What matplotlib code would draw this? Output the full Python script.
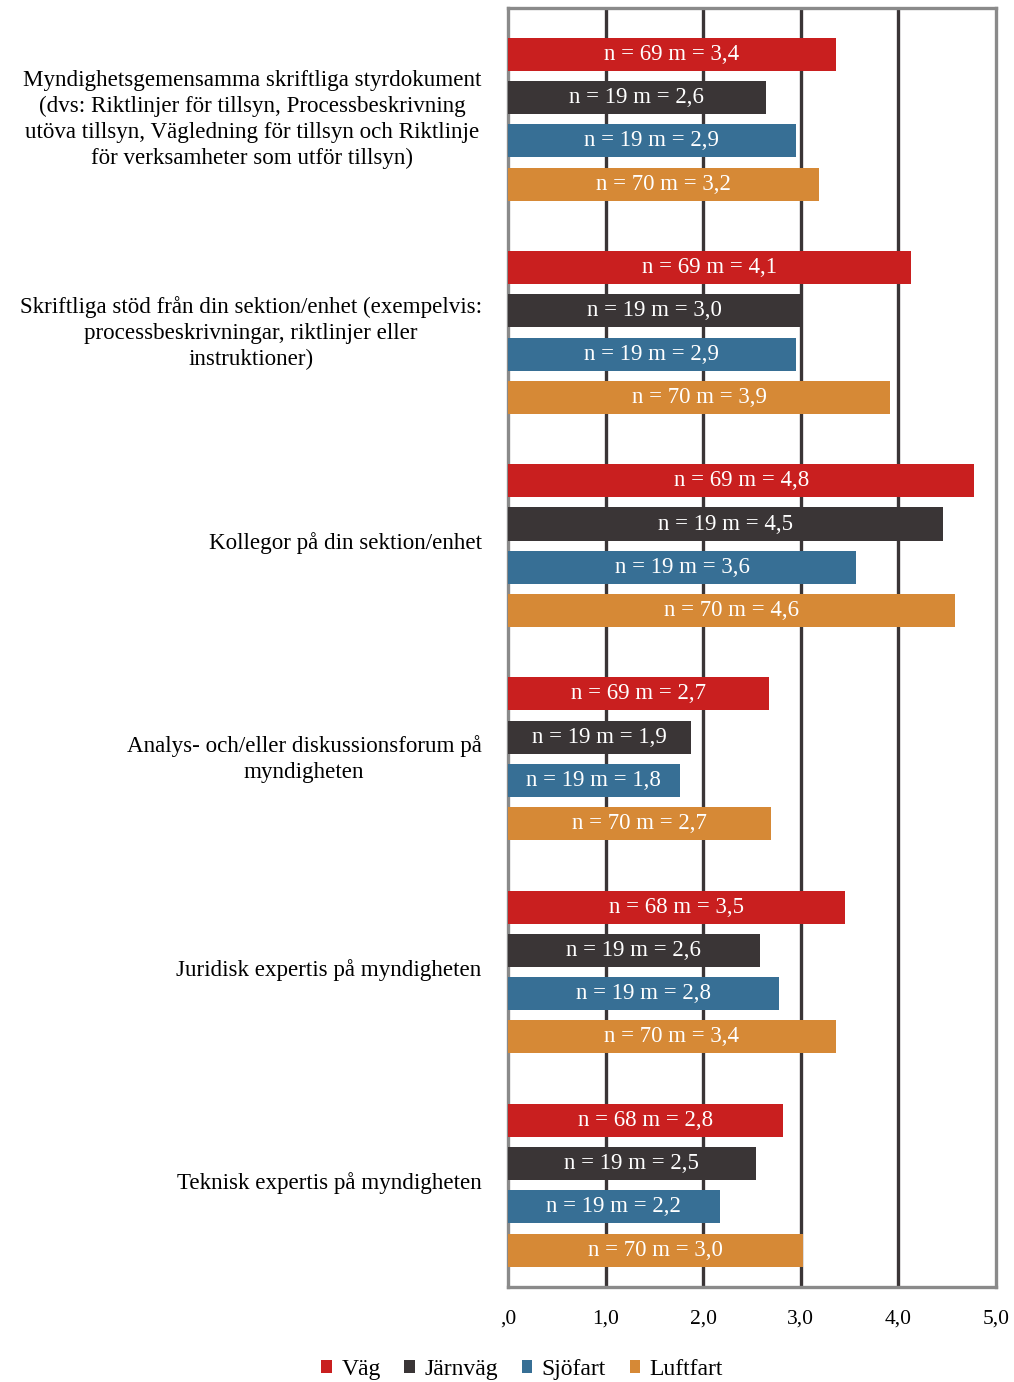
import matplotlib.pyplot as plt
import numpy as np

plt.rcParams['font.family'] = ['Liberation Serif', 'DejaVu Serif']

categories = [
    "Myndighetsgemensamma skriftliga styrdokument\n(dvs: Riktlinjer för tillsyn, Processbeskrivning\nutöva tillsyn, Vägledning för tillsyn och Riktlinje\nför verksamheter som utför tillsyn)",
    "Skriftliga stöd från din sektion/enhet (exempelvis:\nprocessbeskrivningar, riktlinjer eller\ninstruktioner)",
    "Kollegor på din sektion/enhet",
    "Analys- och/eller diskussionsforum på\nmyndigheten",
    "Juridisk expertis på myndigheten",
    "Teknisk expertis på myndigheten",
]
series = ["Väg", "Järnväg", "Sjöfart", "Luftfart"]
colors = ["#C91F1F", "#3A3536", "#376F95", "#D68936"]

# bar lengths (means)
vag = [3.36, 4.13, 4.78, 2.68, 3.45, 2.82]
jarnvag = [2.64, 3.00, 4.46, 1.88, 2.58, 2.54]
sjofart = [2.95, 2.95, 3.57, 1.76, 2.78, 2.17]
luftfart = [3.19, 3.92, 4.58, 2.70, 3.36, 3.02]

# labels shown in bars
n_vag = [69, 69, 69, 69, 68, 68]
n_jarnvag = [19, 19, 19, 19, 19, 19]
n_sjofart = [19, 19, 19, 19, 19, 19]
n_luftfart = [70, 70, 70, 70, 70, 70]
m_vag = ["3,4", "4,1", "4,8", "2,7", "3,5", "2,8"]
m_jarnvag = ["2,6", "3,0", "4,5", "1,9", "2,6", "2,5"]
m_sjofart = ["2,9", "2,9", "3,6", "1,8", "2,8", "2,2"]
m_luftfart = ["3,2", "3,9", "4,6", "2,7", "3,4", "3,0"]

xticks = [0, 1, 2, 3, 4, 5]
xticklabels = [",0", "1,0", "2,0", "3,0", "4,0", "5,0"]

values = [vag, jarnvag, sjofart, luftfart]
ns = [n_vag, n_jarnvag, n_sjofart, n_luftfart]
ms = [m_vag, m_jarnvag, m_sjofart, m_luftfart]

fig = plt.figure(figsize=(10.14, 13.82), dpi=100)
ax = fig.add_axes([0.501, 0.0687, 0.481, 0.9255])

y = np.arange(len(categories)) + 0.5
pitch = 0.203
height = 0.155
shift = 0.022
for i, (vals, col) in enumerate(zip(values, colors)):
    pos = y + (i - 1.5) * pitch + shift
    ax.barh(pos, vals, height=height, color=col, label=series[i], zorder=3)
    for p, v, n, m in zip(pos, vals, ns[i], ms[i]):
        ax.text(v / 2, p, f"n = {n} m = {m}", color='white', fontsize=16.5,
                ha='center', va='center', zorder=4)

ax.set_xlim(0, 5)
ax.set_ylim(len(categories), 0)
ax.set_xticks(xticks)
ax.set_xticklabels(xticklabels, fontsize=15.5)
ax.set_yticks(y)
ax.set_yticklabels(categories, fontsize=16.6, multialignment='center')
for lbl in ax.get_yticklabels():
    lbl.set_linespacing(1.3)
ax.tick_params(axis='both', length=0)
ax.tick_params(axis='x', pad=16)
ax.tick_params(axis='y', pad=19)

for xv in [1, 2, 3, 4]:
    ax.axvline(xv, color='#3A3536', lw=2.4, zorder=1)
for s in ax.spines.values():
    s.set_color('#8A8A8A')
    s.set_linewidth(2.4)

fig.legend(loc='center', bbox_to_anchor=(0.515, 0.009), ncol=4, frameon=False,
           fontsize=17, handlelength=0.45, handleheight=0.45, handletextpad=0.4,
           columnspacing=1.0)

plt.savefig("out.png", dpi=100)
